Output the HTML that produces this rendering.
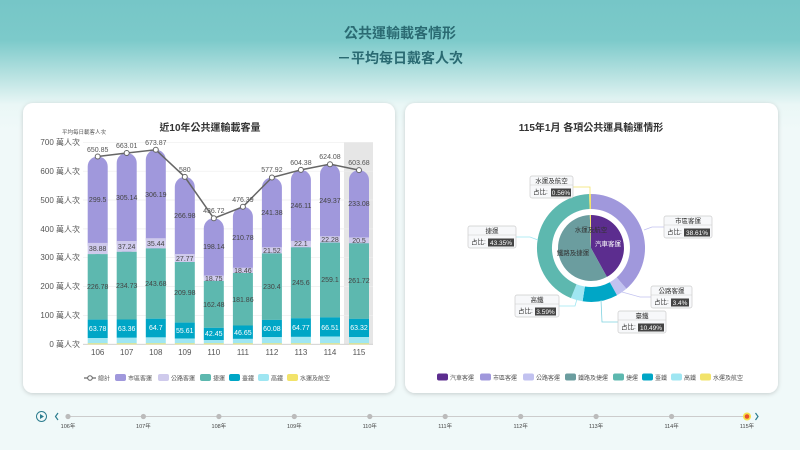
<!DOCTYPE html>
<html><head><meta charset="utf-8"><style>
body{margin:0;width:800px;height:450px;overflow:hidden;font-family:"Liberation Sans","Noto Sans CJK TC",sans-serif;background:linear-gradient(#76c6c7 0px,#7ccaca 40px,#bfe5e4 80px,#eaf7f6 105px,#f0f9f9 130px);}
svg{position:absolute;left:0;top:0}
</style></head><body>
<svg width="800" height="450" viewBox="0 0 800 450" font-family="Liberation Sans, Noto Sans CJK TC, sans-serif">
<defs><filter id="sh" x="-5%" y="-5%" width="110%" height="112%"><feDropShadow dx="0" dy="1" stdDeviation="2" flood-color="#000" flood-opacity="0.18"/></filter></defs>
<text x="400" y="38" text-anchor="middle" font-size="14" fill="#2a6a72" font-weight="bold">公共運輸載客情形</text>
<text x="400" y="63" text-anchor="middle" font-size="14" fill="#2a6a72" font-weight="bold">－平均每日戴客人次</text>
<rect x="23" y="103" width="372" height="290" rx="10" fill="#fff" filter="url(#sh)"/>
<rect x="405" y="103" width="373" height="290" rx="10" fill="#fff" filter="url(#sh)"/>
<text x="210" y="131" text-anchor="middle" font-size="10" font-weight="bold" fill="#333">近10年公共運輸載客量</text>
<text x="62" y="134" font-size="5.5" fill="#555">平均每日載客人次</text>
<rect x="344" y="142" width="29" height="202" fill="#e6e6e6"/>
<g stroke="#eee" stroke-width="0.7">
<line x1="83" x2="373" y1="142.3" y2="142.3"/><line x1="83" x2="373" y1="171.2" y2="171.2"/><line x1="83" x2="373" y1="200" y2="200"/><line x1="83" x2="373" y1="228.9" y2="228.9"/><line x1="83" x2="373" y1="257.7" y2="257.7"/><line x1="83" x2="373" y1="286.6" y2="286.6"/><line x1="83" x2="373" y1="315.4" y2="315.4"/></g>
<line x1="83" x2="373" y1="344.3" y2="344.3" stroke="#ccc" stroke-width="0.8"/>
<g font-size="8" fill="#555" text-anchor="end">
<text x="80" y="145">700 萬人次</text><text x="80" y="174">600 萬人次</text><text x="80" y="203">500 萬人次</text><text x="80" y="232">400 萬人次</text><text x="80" y="260">300 萬人次</text><text x="80" y="289">200 萬人次</text><text x="80" y="318">100 萬人次</text><text x="80" y="347">0 萬人次</text></g>
<g font-size="8" fill="#555" text-anchor="middle">
<text x="97.7" y="355">106</text><text x="126.7" y="355">107</text><text x="155.8" y="355">108</text><text x="184.8" y="355">109</text><text x="213.8" y="355">110</text><text x="242.9" y="355">111</text><text x="271.9" y="355">112</text><text x="300.9" y="355">113</text><text x="330" y="355">114</text><text x="359" y="355">115</text></g>
<!-- purple tops -->
<g fill="#a098dc">
<rect x="87.7" y="156.5" width="20" height="98" rx="10"/>
<rect x="116.7" y="153" width="20" height="100" rx="10"/>
<rect x="145.8" y="149.8" width="20" height="100" rx="10"/>
<rect x="174.8" y="176.9" width="20" height="88" rx="10"/>
<rect x="203.8" y="218.3" width="20" height="68" rx="10"/>
<rect x="232.9" y="206.8" width="20" height="72" rx="10"/>
<rect x="261.9" y="177.5" width="20" height="82" rx="10"/>
<rect x="290.9" y="169.9" width="20" height="82" rx="10"/>
<rect x="320" y="164.2" width="20" height="84" rx="10"/>
<rect x="349" y="170.1" width="20" height="80" rx="10"/></g>
<!-- 公路 -->
<g fill="#cfcaec">
<rect x="87.7" y="242.9" width="20" height="11.2"/><rect x="116.7" y="241" width="20" height="10.8"/><rect x="145.8" y="238.2" width="20" height="10.2"/><rect x="174.8" y="254" width="20" height="8"/><rect x="203.8" y="275.5" width="20" height="5.4"/><rect x="232.9" y="267.7" width="20" height="5.3"/><rect x="261.9" y="247.2" width="20" height="6.2"/><rect x="290.9" y="240.9" width="20" height="6.4"/><rect x="320" y="236.2" width="20" height="6.4"/><rect x="349" y="237.4" width="20" height="5.9"/></g>
<!-- 捷運 -->
<g fill="#5db8af">
<rect x="87.7" y="254.1" width="20" height="65.5"/><rect x="116.7" y="251.8" width="20" height="67.7"/><rect x="145.8" y="248.4" width="20" height="70.3"/><rect x="174.8" y="262" width="20" height="60.6"/><rect x="203.8" y="280.9" width="20" height="46.9"/><rect x="232.9" y="273" width="20" height="52.5"/><rect x="261.9" y="253.4" width="20" height="66.5"/><rect x="290.9" y="247.3" width="20" height="70.9"/><rect x="320" y="242.6" width="20" height="74.8"/><rect x="349" y="243.3" width="20" height="75.5"/></g>
<!-- 臺鐵 -->
<g fill="#00a6c6">
<rect x="87.7" y="319.6" width="20" height="18.4"/><rect x="116.7" y="319.5" width="20" height="18.3"/><rect x="145.8" y="318.7" width="20" height="18.7"/><rect x="174.8" y="322.6" width="20" height="16"/><rect x="203.8" y="327.8" width="20" height="12.2"/><rect x="232.9" y="325.5" width="20" height="13.4"/><rect x="261.9" y="319.9" width="20" height="17.3"/><rect x="290.9" y="318.2" width="20" height="18.7"/><rect x="320" y="317.4" width="20" height="19.2"/><rect x="349" y="318.8" width="20" height="18.3"/></g>
<!-- 高鐵 -->
<g fill="#9fe6f2">
<rect x="87.7" y="338" width="20" height="5.4"/><rect x="116.7" y="337.8" width="20" height="5.6"/><rect x="145.8" y="337.4" width="20" height="6"/><rect x="174.8" y="338.6" width="20" height="4.8"/><rect x="203.8" y="340" width="20" height="3.4"/><rect x="232.9" y="338.9" width="20" height="4.5"/><rect x="261.9" y="337.2" width="20" height="6.2"/><rect x="290.9" y="336.9" width="20" height="6.5"/><rect x="320" y="336.6" width="20" height="6.8"/><rect x="349" y="337.1" width="20" height="6.3"/></g>
<g fill="#f2e36a">
<rect x="87.7" y="343.4" width="20" height="0.9"/><rect x="116.7" y="343.4" width="20" height="0.9"/><rect x="145.8" y="343.4" width="20" height="0.9"/><rect x="174.8" y="343.4" width="20" height="0.9"/><rect x="203.8" y="343.4" width="20" height="0.9"/><rect x="232.9" y="343.4" width="20" height="0.9"/><rect x="261.9" y="343.4" width="20" height="0.9"/><rect x="290.9" y="343.4" width="20" height="0.9"/><rect x="320" y="343.4" width="20" height="0.9"/><rect x="349" y="343.4" width="20" height="0.9"/></g>
<!-- segment labels -->
<g font-size="7" fill="#444" text-anchor="middle">
<text x="97.7" y="202">299.5</text><text x="126.7" y="200">305.14</text><text x="155.8" y="197">306.19</text><text x="184.8" y="218">266.98</text><text x="213.8" y="249">198.14</text><text x="242.9" y="240">210.78</text><text x="271.9" y="215">241.38</text><text x="300.9" y="208">246.11</text><text x="330" y="203">249.37</text><text x="359" y="206">233.08</text>
<text x="97.7" y="251">38.88</text><text x="126.7" y="249">37.24</text><text x="155.8" y="246">35.44</text><text x="184.8" y="261">27.77</text><text x="213.8" y="281">18.75</text><text x="242.9" y="273">18.46</text><text x="271.9" y="253">21.52</text><text x="300.9" y="246">22.1</text><text x="330" y="242">22.28</text><text x="359" y="243">20.5</text>
<text x="97.7" y="289">226.78</text><text x="126.7" y="288">234.73</text><text x="155.8" y="286">243.68</text><text x="184.8" y="295">209.98</text><text x="213.8" y="307">162.48</text><text x="242.9" y="302">181.86</text><text x="271.9" y="289">230.4</text><text x="300.9" y="285">245.6</text><text x="330" y="282">259.1</text><text x="359" y="283">261.72</text></g>
<g font-size="7" fill="#fff" text-anchor="middle">
<text x="97.7" y="331">63.78</text><text x="126.7" y="331">63.36</text><text x="155.8" y="330">64.7</text><text x="184.8" y="333">55.61</text><text x="213.8" y="336">42.45</text><text x="242.9" y="335">46.65</text><text x="271.9" y="331">60.08</text><text x="300.9" y="330">64.77</text><text x="330" y="330">66.51</text><text x="359" y="330">63.32</text></g>
<polyline points="97.7,156.5 126.7,153 155.8,149.8 184.8,176.9 213.8,218.3 242.9,206.8 271.9,177.5 300.9,169.9 330,164.2 359,170.1" fill="none" stroke="#666" stroke-width="1.5"/>
<g fill="#fff" stroke="#666" stroke-width="1">
<circle cx="97.7" cy="156.5" r="2.5"/><circle cx="126.7" cy="153" r="2.5"/><circle cx="155.8" cy="149.8" r="2.5"/><circle cx="184.8" cy="176.9" r="2.5"/><circle cx="213.8" cy="218.3" r="2.5"/><circle cx="242.9" cy="206.8" r="2.5"/><circle cx="271.9" cy="177.5" r="2.5"/><circle cx="300.9" cy="169.9" r="2.5"/><circle cx="330" cy="164.2" r="2.5"/><circle cx="359" cy="170.1" r="2.5"/></g>
<g font-size="7" fill="#555" text-anchor="middle">
<text x="97.7" y="152">650.85</text><text x="126.7" y="148">663.01</text><text x="155.8" y="145">673.87</text><text x="184.8" y="172">580</text><text x="213.8" y="213">436.72</text><text x="242.9" y="202">476.39</text><text x="271.9" y="172">577.92</text><text x="300.9" y="165">604.38</text><text x="330" y="159">624.08</text><text x="359" y="165">603.68</text></g>
<!-- left legend -->
<g font-size="6" fill="#555">
<line x1="84" x2="96" y1="378" y2="378" stroke="#666" stroke-width="1.2"/><circle cx="90" cy="378" r="2.3" fill="#fff" stroke="#666"/><text x="98" y="380.5">總計</text>
<rect x="115" y="374" width="11" height="7" rx="2" fill="#a098dc"/><text x="128" y="380.5">市區客運</text>
<rect x="158" y="374" width="11" height="7" rx="2" fill="#cfcaec"/><text x="171" y="380.5">公路客運</text>
<rect x="200" y="374" width="11" height="7" rx="2" fill="#5db8af"/><text x="213" y="380.5">捷運</text>
<rect x="229" y="374" width="11" height="7" rx="2" fill="#00a6c6"/><text x="242" y="380.5">臺鐵</text>
<rect x="258" y="374" width="11" height="7" rx="2" fill="#9fe6f2"/><text x="271" y="380.5">高鐵</text>
<rect x="287" y="374" width="11" height="7" rx="2" fill="#f2e36a"/><text x="300" y="380.5">水運及航空</text></g>
<!-- right chart -->
<text x="591" y="131" text-anchor="middle" font-size="10" font-weight="bold" fill="#333">115年1月 各項公共運具輸運情形</text>
<path d="M591,194 A54,54 0 0 1 626.4,288.8 L616.6,277.4 A39,39 0 0 0 591,209Z" fill="#a098dc"/>
<path d="M626.4,288.8 A54,54 0 0 1 617,295.3 L609.8,282.2 A39,39 0 0 0 616.6,277.4Z" fill="#c2c2f0"/>
<path d="M617,295.3 A54,54 0 0 1 582.6,301.3 L584.9,286.5 A39,39 0 0 0 609.8,282.2Z" fill="#00a6c6"/>
<path d="M582.6,301.3 A54,54 0 0 1 570.9,298.1 L576.5,284.2 A39,39 0 0 0 584.9,286.5Z" fill="#9fe6f2"/>
<path d="M570.9,298.1 A54,54 0 0 1 589.1,194 L589.6,209 A39,39 0 0 0 576.5,284.2Z" fill="#5db8af"/>
<path d="M589.1,194 A54,54 0 0 1 591,194 L591,209 A39,39 0 0 0 589.6,209Z" fill="#f2e36a"/>
<path d="M591,248 L591,215 A33,33 0 0 1 606.9,276.9Z" fill="#5c2d8f"/>
<path d="M591,248 L606.9,276.9 A33,33 0 1 1 589.8,215Z" fill="#6b9d9f"/>
<path d="M591,248 L589.8,215 L591,215Z" fill="#f2e36a"/>
<text x="591" y="232" text-anchor="middle" font-size="6.5" fill="#333">水運及航空</text>
<text x="608" y="246" text-anchor="middle" font-size="6.5" fill="#fff">汽車客運</text>
<text x="573" y="255" text-anchor="middle" font-size="6.5" fill="#333">鐵路及捷運</text>
<!-- leader lines -->
<g fill="none" stroke-width="0.8">
<polyline points="573,187 590,187 590,194" stroke="#f2e36a"/>
<polyline points="664,227 652,227 644,230" stroke="#c2c2f0"/>
<polyline points="516,237 530,237 538,240" stroke="#9fe6f2"/>
<polyline points="651,297 640,297 622,292" stroke="#c2c2f0"/>
<polyline points="559,306 575,306 577,299" stroke="#9fe6f2"/>
<polyline points="618,322 602,322 601,300" stroke="#7fd2e0"/></g>
<!-- label boxes -->
<g font-size="6.5" fill="#333">
<rect x="530" y="176" width="43" height="22" rx="2" fill="#f7f8fa" stroke="#ccc" stroke-width="0.7"/><line x1="530" x2="573" y1="185" y2="185" stroke="#ccc" stroke-width="0.5"/><text x="551.5" y="183" text-anchor="middle">水運及航空</text><text x="533" y="194">占比:</text><rect x="551" y="188.5" width="20" height="8" fill="#444"/><text x="561" y="195" text-anchor="middle" fill="#fff">0.56%</text>
<rect x="664" y="216" width="48" height="22" rx="2" fill="#f7f8fa" stroke="#ccc" stroke-width="0.7"/><line x1="664" x2="712" y1="225" y2="225" stroke="#ccc" stroke-width="0.5"/><text x="688" y="223" text-anchor="middle">市區客運</text><text x="667" y="234">占比:</text><rect x="684" y="228.5" width="26" height="8" fill="#444"/><text x="697" y="235" text-anchor="middle" fill="#fff">38.61%</text>
<rect x="468" y="226" width="48" height="22" rx="2" fill="#f7f8fa" stroke="#ccc" stroke-width="0.7"/><line x1="468" x2="516" y1="235" y2="235" stroke="#ccc" stroke-width="0.5"/><text x="492" y="233" text-anchor="middle">捷運</text><text x="471" y="244">占比:</text><rect x="488" y="238.5" width="26" height="8" fill="#444"/><text x="501" y="245" text-anchor="middle" fill="#fff">43.35%</text>
<rect x="651" y="286" width="41" height="22" rx="2" fill="#f7f8fa" stroke="#ccc" stroke-width="0.7"/><line x1="651" x2="692" y1="295" y2="295" stroke="#ccc" stroke-width="0.5"/><text x="671.5" y="293" text-anchor="middle">公路客運</text><text x="654" y="304">占比:</text><rect x="671" y="298.5" width="18" height="8" fill="#444"/><text x="680" y="305" text-anchor="middle" fill="#fff">3.4%</text>
<rect x="515" y="295" width="44" height="22" rx="2" fill="#f7f8fa" stroke="#ccc" stroke-width="0.7"/><line x1="515" x2="559" y1="304" y2="304" stroke="#ccc" stroke-width="0.5"/><text x="537" y="302" text-anchor="middle">高鐵</text><text x="518" y="313">占比:</text><rect x="535" y="307.5" width="21" height="8" fill="#444"/><text x="545.5" y="314" text-anchor="middle" fill="#fff">3.59%</text>
<rect x="618" y="311" width="48" height="22" rx="2" fill="#f7f8fa" stroke="#ccc" stroke-width="0.7"/><line x1="618" x2="666" y1="320" y2="320" stroke="#ccc" stroke-width="0.5"/><text x="642" y="318" text-anchor="middle">臺鐵</text><text x="621" y="329">占比:</text><rect x="638" y="323.5" width="26" height="8" fill="#444"/><text x="651" y="330" text-anchor="middle" fill="#fff">10.49%</text></g>
<!-- right legend -->
<g font-size="6" fill="#555">
<rect x="437" y="373.5" width="11" height="7" rx="2" fill="#5c2d8f"/><text x="450" y="380">汽車客運</text>
<rect x="480" y="373.5" width="11" height="7" rx="2" fill="#a098dc"/><text x="493" y="380">市區客運</text>
<rect x="523" y="373.5" width="11" height="7" rx="2" fill="#c2c2f0"/><text x="536" y="380">公路客運</text>
<rect x="565" y="373.5" width="11" height="7" rx="2" fill="#6b9d9f"/><text x="578" y="380">鐵路及捷運</text>
<rect x="613" y="373.5" width="11" height="7" rx="2" fill="#5db8af"/><text x="626" y="380">捷運</text>
<rect x="642" y="373.5" width="11" height="7" rx="2" fill="#00a6c6"/><text x="655" y="380">臺鐵</text>
<rect x="671" y="373.5" width="11" height="7" rx="2" fill="#9fe6f2"/><text x="684" y="380">高鐵</text>
<rect x="700" y="373.5" width="11" height="7" rx="2" fill="#f2e36a"/><text x="713" y="380">水運及航空</text></g>
<!-- timeline -->
<circle cx="41.5" cy="416.5" r="5" fill="none" stroke="#2d7d8f" stroke-width="1"/><path d="M40,414 L44,416.5 L40,419Z" fill="#2d7d8f"/>
<path d="M58,413 L55.5,416.5 L58,420" fill="none" stroke="#2d7d8f" stroke-width="1.2"/>
<path d="M755.5,413 L758,416.5 L755.5,420" fill="none" stroke="#2d7d8f" stroke-width="1.2"/>
<line x1="68" x2="747" y1="416.5" y2="416.5" stroke="#ccc" stroke-width="1"/>
<g fill="#bbb"><circle cx="68" cy="416.5" r="2.6"/><circle cx="143.4" cy="416.5" r="2.6"/><circle cx="218.9" cy="416.5" r="2.6"/><circle cx="294.3" cy="416.5" r="2.6"/><circle cx="369.8" cy="416.5" r="2.6"/><circle cx="445.2" cy="416.5" r="2.6"/><circle cx="520.7" cy="416.5" r="2.6"/><circle cx="596.1" cy="416.5" r="2.6"/><circle cx="671.6" cy="416.5" r="2.6"/></g>
<circle cx="747" cy="416.5" r="4" fill="#f5e04a"/><circle cx="747" cy="416.5" r="2.3" fill="#e8502a"/>
<g font-size="5.5" fill="#444" text-anchor="middle"><text x="68" y="428">106年</text><text x="143.4" y="428">107年</text><text x="218.9" y="428">108年</text><text x="294.3" y="428">109年</text><text x="369.8" y="428">110年</text><text x="445.2" y="428">111年</text><text x="520.7" y="428">112年</text><text x="596.1" y="428">113年</text><text x="671.6" y="428">114年</text><text x="747" y="428">115年</text></g>
</svg>
</body></html>
